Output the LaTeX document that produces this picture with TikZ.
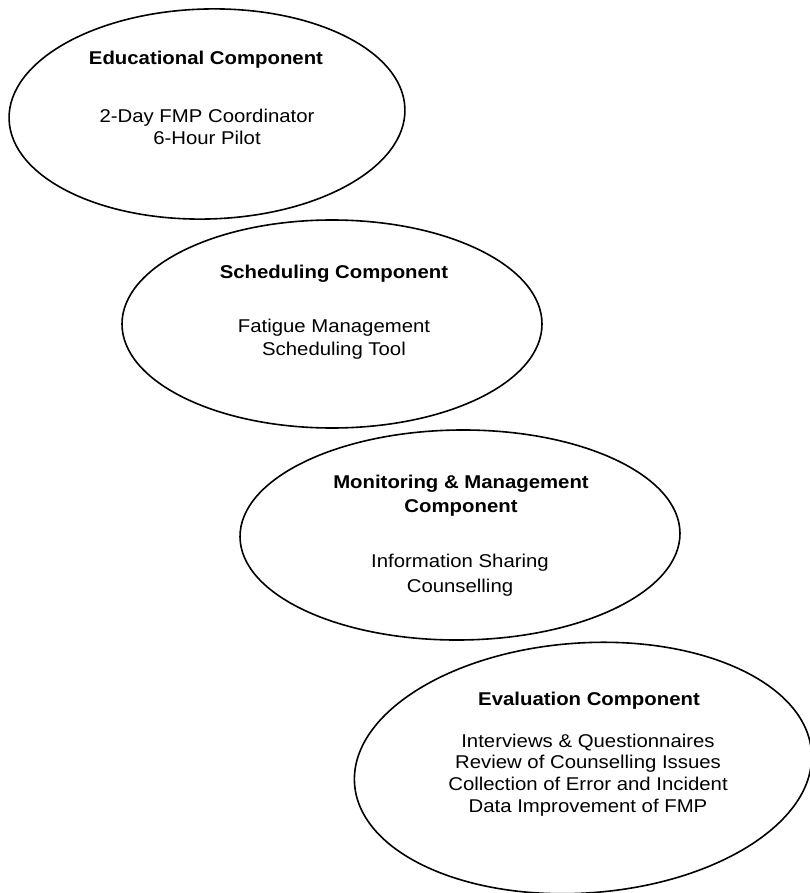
\documentclass[tikz,border=0pt]{standalone}
\usepackage{fontspec}
\setmainfont{Liberation Sans}[FakeStretch=1.1]
\usetikzlibrary{shapes.geometric}
\begin{document}
\begin{tikzpicture}[x=1pt,y=-1pt,
  comp/.style={draw=black, line width=1.6pt, ellipse, inner sep=0pt},
  head/.style={anchor=base, inner sep=0pt, font=\fontsize{18.5}{22}\selectfont\bfseries},
  item/.style={anchor=base, inner sep=0pt, font=\fontsize{18.5}{22}\selectfont}]
\useasboundingbox (0,0) rectangle (809,893);

% the four components, stepping down to the right
\node[comp, minimum width=396pt, minimum height=210pt, rotate=1.5] (edu) at (207,114) {};
\node[comp, minimum width=420pt, minimum height=208pt] (sched) at (332,324) {};
\node[comp, minimum width=440pt, minimum height=210pt, rotate=0.5] (mon) at (460,535) {};
\node[comp, minimum width=458pt, minimum height=250pt, rotate=4] (eval) at (583,768) {};

% Educational
\node[head] (eduT) at (206,65) {Educational Component};
\node[item] (edu1) at (207,123) {2-Day FMP Coordinator};
\node[item] (edu2) at (207,145) {6-Hour Pilot};

% Scheduling
\node[head] (schedT) at (334,278) {Scheduling Component};
\node[item] (sched1) at (334,332) {Fatigue Management};
\node[item] (sched2) at (334,355) {Scheduling Tool};

% Monitoring & Management
\node[head] (monT1) at (461,488) {Monitoring \& Management};
\node[head] (monT2) at (461,512) {Component};
\node[item] (mon1) at (460,567) {Information Sharing};
\node[item] (mon2) at (460,592) {Counselling};

% Evaluation
\node[head] (evalT) at (589,705) {Evaluation Component};
\node[item] (eval1) at (588,747) {Interviews \& Questionnaires};
\node[item] (eval2) at (588,768) {Review of Counselling Issues};
\node[item] (eval3) at (588,790) {Collection of Error and Incident};
\node[item] (eval4) at (588,812) {Data Improvement of FMP};
\end{tikzpicture}
\end{document}
